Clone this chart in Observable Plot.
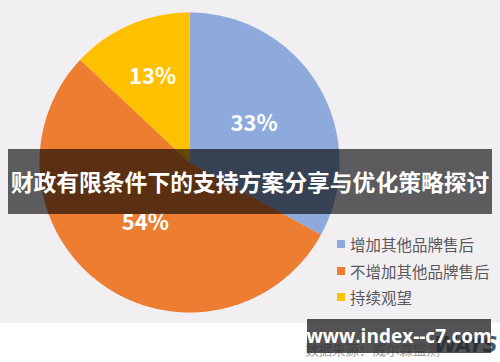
<!DOCTYPE html>
<html>
<head>
<meta charset="utf-8">
<script src="https://cdn.jsdelivr.net/npm/d3@7"></script>
<script src="https://cdn.jsdelivr.net/npm/@observablehq/plot@0.6"></script>
<style>
  html, body { margin: 0; padding: 0; background: #ffffff; }
  #wrap { position: relative; width: 500px; height: 362px; overflow: hidden; font-family: "Noto Sans CJK SC", "Noto Sans", sans-serif; }
  #chart { position: absolute; left: 0; top: 0; }
  #legend { position: absolute; left: 337px; top: 231px; font-size: 15.5px; color: #595959; line-height: 26.5px; }
  #legend .row { display: flex; align-items: center; white-space: nowrap; }
  #legend .sw { width: 8px; height: 8px; margin-right: 5px; }
  #banner { position: absolute; left: 8px; top: 149px; width: 484px; height: 65px; background: rgba(0,0,0,0.62);
            color: #fff; font-weight: 700; font-size: 22.8px; letter-spacing: 0px; display: flex; align-items: center; justify-content: center; white-space: nowrap; overflow: visible; font-family: "Noto Sans CJK SC", sans-serif; }
  #source { position: absolute; left: 305px; top: 339px; font-size: 13.5px; color: #a0a0a0; white-space: nowrap; }
  #logo { position: absolute; left: 434px; top: 333px; font-size: 21px; font-weight: 900; font-style: italic; color: #3d5a78; font-family: "DejaVu Sans", sans-serif; letter-spacing: -1px; }
  #mark { position: absolute; left: 307px; top: 319px; width: 184px; height: 34px; background: rgba(40,40,42,0.8);
          color: #fff; font-weight: 700; font-size: 19px; display: flex; align-items: center; justify-content: center; font-family: "Open Sans", "DejaVu Sans", sans-serif; white-space: nowrap; }
</style>
</head>
<body>
<div id="wrap">
  <div id="chart"></div>
  <div id="legend"></div>
  <div id="source">数据来源：威尔森监测</div>
  <div id="logo">WAYS</div>
  <div id="mark">www.index--c7.com</div>
  <div id="banner"></div>
</div>
<script>
// ---- data ----
const categories = ["增加其他品牌售后", "不增加其他品牌售后", "持续观望"];
const shares = [33, 54, 13];
const labels = ["33%", "54%", "13%"];
const colors = ["#8eaadc", "#ed7d31", "#ffc000"];
const title = "财政有限条件下的支持方案分享与优化策略探讨";

// ---- geometry from data ----
const pie = d3.pie().sort(null).startAngle(0).endAngle(2 * Math.PI)(shares);
const slicePts = [];
const labelPts = [];
pie.forEach((p, i) => {
  const cat = categories[i];
  slicePts.push({cat, x: 0, y: 0});
  const n = Math.max(2, Math.ceil((p.endAngle - p.startAngle) / 0.01));
  for (let k = 0; k <= n; k++) {
    const a = p.startAngle + (p.endAngle - p.startAngle) * k / n;
    slicePts.push({cat, x: Math.sin(a), y: Math.cos(a)});
  }
  slicePts.push({cat, x: 0, y: 0});
  const mid = (p.startAngle + p.endAngle) / 2;
  const r = shares[i] < 20 ? 0.62 : 0.5;
  labelPts.push({label: labels[i], x: r * Math.sin(mid), y: r * Math.cos(mid)});
});

const plot = Plot.plot({
  width: 500,
  height: 362,
  marginLeft: 39,
  marginRight: 161,
  marginTop: 12,
  marginBottom: 50,
  x: {domain: [-1, 1], axis: null},
  y: {domain: [-1, 1], axis: null},
  color: {domain: categories, range: colors},
  style: {background: "linear-gradient(#f2eff3 0px, #f2eff3 323px, #ffffff 323px)", overflow: "visible"},
  marks: [
    Plot.line(slicePts, {x: "x", y: "y", z: "cat", fill: "cat", stroke: null, curve: "linear"}),
    Plot.text(labelPts, {x: "x", y: "y", text: "label", fill: "#ffffff", fontSize: 22, fontWeight: 700,
      fontFamily: "'Noto Sans CJK SC', 'Noto Sans', sans-serif"})
  ]
});
document.getElementById("chart").appendChild(plot);

// legend from the plot's color scale
const cs = plot.scale("color");
const leg = document.getElementById("legend");
cs.domain.forEach((c, i) => {
  const row = document.createElement("div");
  row.className = "row";
  const sw = document.createElement("span");
  sw.className = "sw";
  sw.style.background = cs.range[i];
  const t = document.createElement("span");
  t.textContent = c;
  row.appendChild(sw); row.appendChild(t);
  leg.appendChild(row);
});
document.getElementById("banner").textContent = title;
</script>
</body>
</html>
